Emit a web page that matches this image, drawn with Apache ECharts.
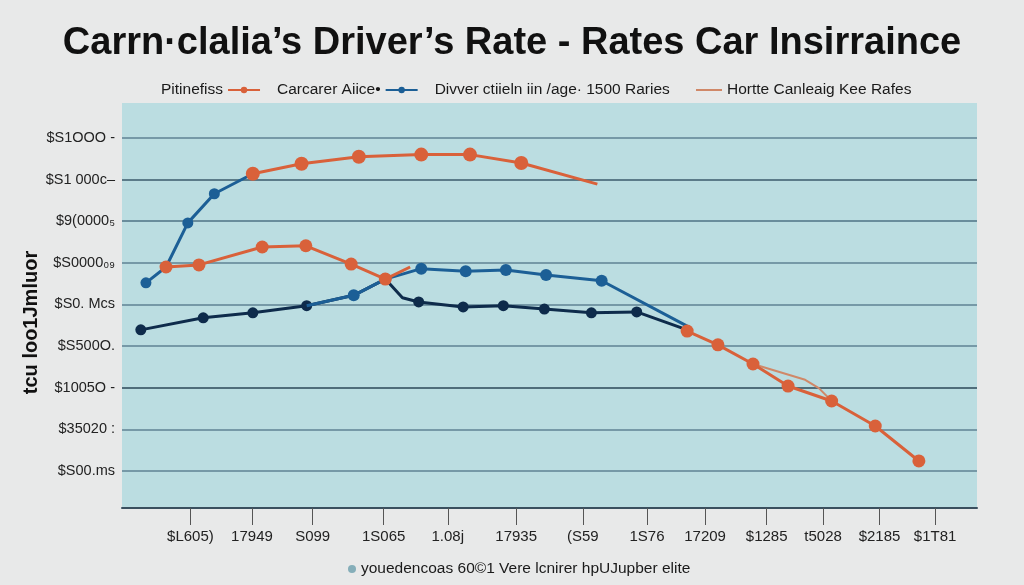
<!DOCTYPE html>
<html>
<head>
<meta charset="utf-8">
<script src="https://cdn.jsdelivr.net/npm/echarts@6/dist/echarts.min.js"></script>
<style>
html,body{margin:0;padding:0;background:#e8e9e9;}
#chart{width:1024px;height:585px;}
</style>
</head>
<body>
<div id="chart"></div>
<script>
// ---- data ----
const titleText = 'Carrn·clalia’s Driver’s Rate - Rates Car Insirraince';
const yAxisTitle = 'tcu loo1Jmluor';

const xTickValues = [8, 15.2, 22.3, 30.6, 38.1, 46.1, 53.9, 61.4, 68.2, 75.4, 82, 88.6, 95.1];
const xTickLabels = ['$L605)', '17949', 'S099', '1S065', '1.08j', '17935', '(S59', '1S76', '17209', '$1285', 't5028', '$2185', '$1T81'];

const yTickValues = [1, 2, 3, 4, 5, 6, 7, 8, 9];
const yTickLabels = ['$S00.ms', '$35020 :', '$1005O -', '$S500O.', '$S0. Mcs', '$S0000₀₉', '$9(0000₅', '$S1 000c–', '$S1OOO -'];

const nameOrange = 'Pitinefiss';
const nameBlue = 'Carcarer Aiice•';
const nameNavy = 'Divver ctiieln iin /age· 1500 Raries';
const nameThin = 'Hortte Canleaig Kee Rafes';
const nameNote = 'youedencoas 60©1 Vere lcnirer hpUJupber elite';

const orangeArch = [[15.3, 8.14], [21.0, 8.38], [27.7, 8.55], [35.0, 8.60], [40.7, 8.60], [46.7, 8.40], [55.6, 7.89]];
const orangeLower = [[5.15, 5.90], [9.0, 5.95], [16.4, 6.38], [21.5, 6.41], [26.8, 5.97], [30.8, 5.61], [33.7, 5.90]];
const orangeFall = [[66.1, 4.36], [69.7, 4.03], [73.8, 3.57], [77.9, 3.04], [83.0, 2.68], [88.1, 2.08], [93.2, 1.24]];
const thinOrange = [[73.8, 3.57], [79.9, 3.19], [81.5, 2.99], [83.0, 2.68]];
const blueRise = [[2.8, 5.52], [5.15, 5.90], [7.7, 6.96], [10.8, 7.66], [15.3, 8.14]];
const bluePlateau = [[21.6, 4.97], [27.1, 5.22], [30.8, 5.61], [35.0, 5.86], [40.2, 5.80], [44.9, 5.83], [49.6, 5.71], [56.1, 5.57], [66.1, 4.48]];
const navyLow = [[2.2, 4.39], [9.5, 4.68], [15.3, 4.80], [21.6, 4.97], [27.1, 5.22], [30.8, 5.61]];
const navyFlat = [[30.8, 5.61], [32.8, 5.16], [34.7, 5.06], [39.9, 4.94], [44.6, 4.97], [49.4, 4.89], [54.9, 4.80], [60.2, 4.82], [66.1, 4.39]];

// ---- chart ----
const ORANGE = '#d9613a', BLUE = '#1c5f96', NAVY = '#0e2b4b', THIN = '#d08868';
const chart = echarts.init(document.getElementById('chart'));
const font = 'Liberation Sans';

function skipSymbols(list, shape) {
  return function (v, p) { return list.indexOf(p.dataIndex) >= 0 ? 'none' : (shape || 'circle'); };
}

function lineSeries(name, data, color, width, size, skip, z) {
  return {
    name: name, type: 'line', data: data, z: z,
    symbol: skipSymbols(skip || []), symbolSize: size,
    lineStyle: { color: color, width: width },
    itemStyle: { color: color },
    emphasis: { disabled: true }
  };
}

const fmtX = function (val) {
  for (let i = 0; i < xTickValues.length; i++) if (Math.abs(xTickValues[i] - val) < 1e-6) return xTickLabels[i];
  return '';
};
const fmtY = function (val) {
  for (let i = 0; i < yTickValues.length; i++) if (Math.abs(yTickValues[i] - val) < 1e-6) return yTickLabels[i];
  return '';
};

const legendText = { fontFamily: font, fontSize: 15.5, color: '#1a1a1a' };

chart.setOption({
  backgroundColor: '#e8e9e9',
  animation: false,
  title: {
    text: titleText, left: 'center', top: 20,
    textStyle: { fontFamily: font, fontWeight: 'bold', fontSize: 38, color: '#111' }
  },
  legend: [
    {
      left: 156, top: 77, align: 'right', itemGap: 16, itemWidth: 32, itemHeight: 8,
      textStyle: legendText,
      data: [
        { name: nameOrange },
        { name: nameBlue },
        { name: nameNavy, itemStyle: { opacity: 0 }, lineStyle: { opacity: 0 } }
      ]
    },
    {
      left: 691, top: 77, align: 'left', itemWidth: 26, itemHeight: 2, icon: 'rect',
      textStyle: legendText,
      data: [{ name: nameThin, itemStyle: { color: THIN } }]
    },
    {
      left: 343, top: 556, icon: 'circle', itemWidth: 8, itemHeight: 8,
      textStyle: legendText,
      data: [{ name: nameNote }]
    }
  ],
  grid: {
    left: 122, right: 47, top: 103, bottom: 77,
    show: true, backgroundColor: '#bbdde1', borderWidth: 0
  },
  xAxis: {
    type: 'value', min: 0, max: 100,
    axisLine: { show: true, onZero: false, lineStyle: { color: '#3a4f5e', width: 2 } },
    axisTick: { show: true, customValues: xTickValues, length: 17, lineStyle: { color: '#555', width: 1 } },
    axisLabel: { customValues: xTickValues, formatter: fmtX, margin: 21, fontFamily: font, fontSize: 15, color: '#222' },
    splitLine: { show: false }
  },
  yAxis: {
    type: 'value', min: 0.11, max: 9.84,
    name: yAxisTitle, nameLocation: 'middle', nameGap: 81, nameRotate: 90, nameMoveOverlap: false,
    nameTextStyle: { fontFamily: font, fontSize: 20, fontWeight: 'bold', color: '#111', padding: [0, 0, 0, -34] },
    axisLine: { show: false },
    axisTick: { show: false, customValues: yTickValues },
    axisLabel: { customValues: yTickValues, formatter: fmtY, margin: 7, fontFamily: font, fontSize: 14.5, color: '#222' },
    splitLine: {
      show: true,
      lineStyle: {
        width: 1.5,
        color: ['#5f8293', '#5f8293', '#2b4757', '#5f8293', '#5f8293', '#5f8293', '#4e7285', '#3b5a6b', '#5f8293']
      }
    }
  },
  series: [
    lineSeries(nameThin, thinOrange, THIN, 2, 0, [0, 1, 2, 3], 1),
    lineSeries(nameNavy, navyLow, NAVY, 3, 11, [4, 5], 2),
    lineSeries(nameNavy, navyFlat, NAVY, 3, 11, [0, 1, 8], 2),
    lineSeries(nameBlue, blueRise, BLUE, 3, 11, [1, 4], 3),
    lineSeries(nameBlue, bluePlateau, BLUE, 3, 12, [0, 8], 3),
    lineSeries(nameOrange, orangeLower, ORANGE, 3, 13, [6], 4),
    lineSeries(nameOrange, orangeArch, ORANGE, 3, 14, [6], 4),
    lineSeries(nameOrange, orangeFall, ORANGE, 3, 13, [], 4),
    { name: nameNote, type: 'scatter', data: [], itemStyle: { color: '#6b9fad' } }
  ]
});
</script>
</body>
</html>
